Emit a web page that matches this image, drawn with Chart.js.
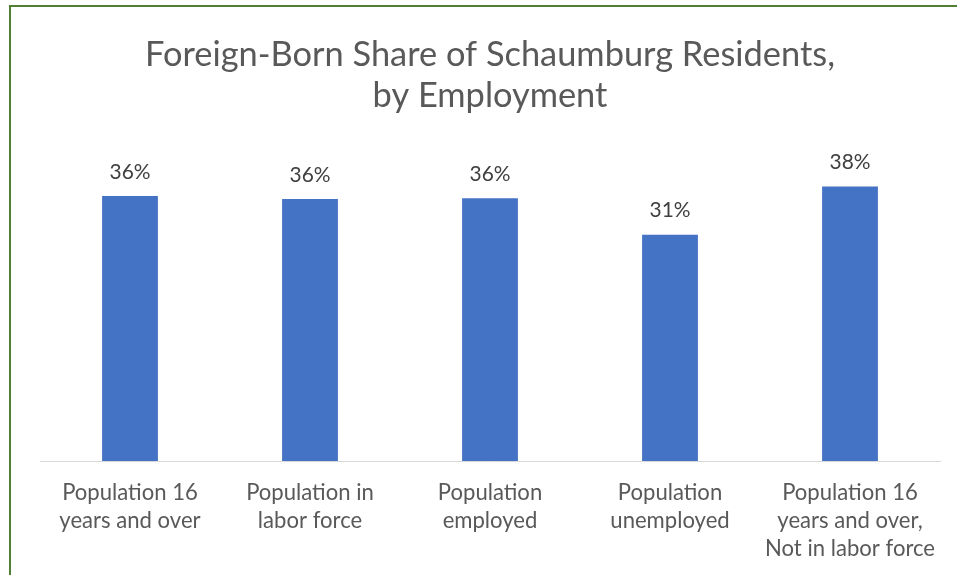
<!DOCTYPE html>
<html>
<head>
<meta charset="utf-8">
<script src="https://cdn.jsdelivr.net/npm/chart.js@4/dist/chart.umd.min.js"></script>
<style>
  html, body { margin: 0; padding: 0; background: #ffffff; }
  #wrap { width: 957px; height: 575px; position: relative; }
</style>
</head>
<body>
<div id="wrap"><canvas id="c" width="957" height="575"></canvas></div>
<script>
// ---- Data ----
const chartTitle = ['Foreign-Born Share of Schaumburg Residents,', 'by Employment'];
const categories = [
  ['Population 16', 'years and over'],
  ['Population in', 'labor force'],
  ['Population', 'employed'],
  ['Population', 'unemployed'],
  ['Population 16', 'years and over,', 'Not in labor force']
];
const shares = [36.3, 35.9, 36.0, 31.0, 37.6];
const yMin = 0;
const yMax = 40;

// ---- Styling helpers ----
const FAMILY = 'Lato, "Open Sans", "Liberation Sans", sans-serif';
function fitSize(text, target) {
  const ctx = document.createElement('canvas').getContext('2d');
  ctx.font = '100px ' + FAMILY;
  return Math.round(100 * target / ctx.measureText(text).width * 10) / 10;
}
const titleSize = fitSize(chartTitle[0], 690);
const tickSize = fitSize('Not in labor force', 170);
const labelSize = fitSize('36%', 41);

const framePlugin = {
  id: 'frame',
  beforeDraw(chart) {
    const ctx = chart.ctx;
    ctx.save();
    ctx.fillStyle = '#ffffff';
    ctx.fillRect(0, 0, chart.width, chart.height);
    ctx.strokeStyle = '#507E32';
    ctx.lineWidth = 2;
    ctx.strokeRect(10, 6, 1200, 1000);
    ctx.restore();
  }
};

const valueLabels = {
  id: 'valueLabels',
  afterDatasetsDraw(chart) {
    const ctx = chart.ctx;
    const meta = chart.getDatasetMeta(0);
    ctx.save();
    ctx.font = labelSize + 'px ' + FAMILY;
    ctx.fillStyle = '#404040';
    ctx.textAlign = 'center';
    ctx.textBaseline = 'middle';
    meta.data.forEach((bar, i) => {
      ctx.fillText(Math.round(shares[i]) + '%', bar.x, bar.y - 24);
    });
    ctx.restore();
  }
};

new Chart(document.getElementById('c'), {
  type: 'bar',
  data: {
    labels: categories,
    datasets: [{
      data: shares,
      backgroundColor: '#4472C4',
      borderWidth: 0,
      categoryPercentage: 1.0,
      barPercentage: 0.31
    }]
  },
  options: {
    responsive: false,
    animation: false,
    devicePixelRatio: 1,
    layout: { padding: { top: 0, left: 40, right: 17, bottom: 0 } },
    plugins: {
      legend: { display: false },
      tooltip: { enabled: false },
      title: {
        display: true,
        text: chartTitle,
        color: '#595959',
        font: { family: FAMILY, size: titleSize, weight: 'normal', lineHeight: 41 / titleSize },
        padding: { top: 34, bottom: 53 }
      }
    },
    scales: {
      x: {
        grid: { display: false, drawTicks: false },
        border: { display: true, color: '#D9D9D9', width: 1 },
        ticks: {
          color: '#595959',
          font: { family: FAMILY, size: tickSize, lineHeight: 28 / tickSize },
          padding: 18,
          maxRotation: 0,
          autoSkip: false
        },
        afterFit(scale) { scale.height = 114; }
      },
      y: {
        display: false,
        min: yMin,
        max: yMax
      }
    }
  },
  plugins: [framePlugin, valueLabels]
});
</script>
</body>
</html>
